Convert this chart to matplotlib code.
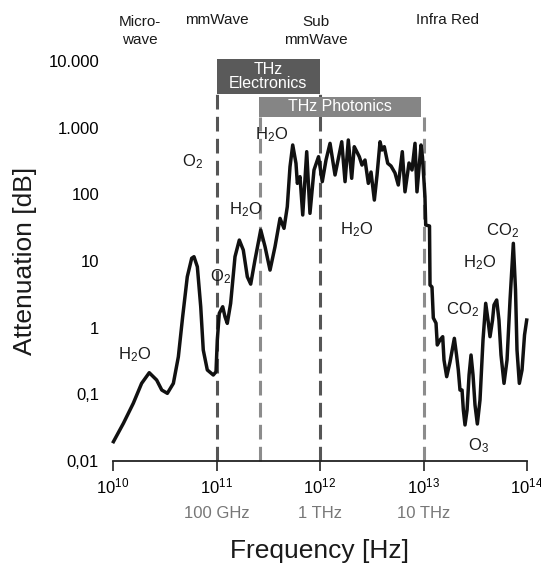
import matplotlib
matplotlib.use("Agg")
import matplotlib.pyplot as plt
import matplotlib.transforms as mtransforms
from matplotlib.patches import Rectangle
from matplotlib.ticker import FixedLocator

plt.rcParams['font.family'] = ['Liberation Sans', 'DejaVu Sans']
plt.rcParams['mathtext.fontset'] = 'custom'
plt.rcParams['mathtext.rm'] = 'Liberation Sans'
plt.rcParams['mathtext.it'] = 'Liberation Sans:italic'
plt.rcParams['mathtext.bf'] = 'Liberation Sans:bold'

# atmospheric attenuation
freq_hz = [1.01e10, 1.26e10, 1.57e10, 1.89e10, 2.24e10, 2.64e10, 2.96e10, 3.35e10, 3.83e10, 4.28e10,
           4.71e10, 5.22e10, 5.76e10, 6.06e10, 6.53e10, 7.04e10, 7.45e10, 8.15e10, 9.31e10, 9.89e10,
           1.018e11, 1.064e11, 1.148e11, 1.208e11, 1.271e11, 1.370e11, 1.509e11, 1.661e11, 1.815e11, 1.985e11,
           2.14e11, 2.355e11, 2.675e11, 2.944e11, 3.29e11, 3.676e11, 4.11e11, 4.49e11, 4.83e11, 5.13e11,
           5.45e11, 5.86e11, 6.04e11, 6.41e11, 6.81e11, 7.44e11, 8.0e11, 8.75e11, 9.68e11, 1.052e12,
           1.143e12, 1.25e12, 1.397e12, 1.622e12, 1.746e12, 1.877e12, 2.024e12, 2.143e12, 2.276e12, 2.397e12,
           2.545e12, 2.722e12, 2.931e12, 3.112e12, 3.35e12, 3.557e12, 3.802e12, 3.975e12, 4.181e12, 4.51e12,
           4.853e12, 5.305e12, 5.71e12, 6.24e12, 6.625e12, 7.244e12, 7.745e12, 8.28e12, 8.65e12, 9.46e12,
           9.775e12, 1.033e13, 1.05e13, 1.143e13, 1.156e13, 1.208e13, 1.244e13, 1.321e13, 1.359e13, 1.443e13,
           1.533e13, 1.578e13, 1.675e13, 1.803e13, 1.986e13, 2.085e13, 2.169e13, 2.252e13, 2.357e13, 2.427e13,
           2.518e13, 2.636e13, 2.756e13, 2.879e13, 3.009e13, 3.145e13, 3.313e13, 3.515e13, 3.758e13, 3.99e13,
           4.199e13, 4.393e13, 4.644e13, 4.798e13, 5.093e13, 5.358e13, 5.61e13, 5.997e13, 6.412e13, 6.856e13,
           7.379e13, 7.746e13, 8.005e13, 8.433e13, 8.954e13, 9.464e13, 9.934e13]
atten_db = [0.0195, 0.0367, 0.0733, 0.146, 0.211, 0.164, 0.116, 0.1035, 0.146, 0.366,
            1.46, 5.8, 11.0, 11.6, 8.2, 2.06, 0.462, 0.232, 0.195, 0.218,
            0.653, 1.64, 2.06, 1.46, 1.16, 2.32, 11.6, 20.6, 14.6, 5.8,
            4.5, 10.4, 29.2, 16.4, 7.3, 16.4, 43.6, 30.9, 65.2, 259,
            550, 292, 146, 184, 49, 436, 51.9, 232, 367, 155,
            327, 582, 195, 615, 155, 653, 174, 518, 431, 367,
            275, 327, 146, 216, 82, 195, 615, 462, 518, 292,
            266, 209, 138, 436, 109, 295, 232, 582, 109, 550,
            363, 92, 34.7, 33.5, 4.37, 4.07, 1.40, 1.17, 0.55, 0.653,
            0.732, 0.327, 0.184, 0.305, 0.692, 0.389, 0.232, 0.116, 0.116, 0.0582,
            0.0347, 0.0582, 0.195, 0.389, 0.195, 0.0692, 0.0359, 0.0822, 0.653, 2.32,
            1.30, 0.732, 1.30, 2.19, 2.60, 1.30, 0.389, 0.146, 0.327, 2.60,
            18.4, 3.67, 0.462, 0.146, 0.232, 0.776, 1.30]

y_ticks = [0.01, 0.1, 1, 10, 100, 1000, 10000]
y_tick_labels = ["0,01", "0,1", "1", "10", "100", "1.000", "10.000"]
x_ticks = [1e10, 1e11, 1e12, 1e13, 1e14]
unit_pos = [1e11, 1e12, 1e13]
unit_labels = ["100 GHz", "1 THz", "10 THz"]

# band borders (dashed) and the two technology bands
border_freq = [1e11, 2.65e11, 1e12, 1e13]
border_top = [3200, 1450, 3200, 1450]
border_col = ["#555555", "#8c8c8c", "#555555", "#8c8c8c"]
bands = [("THz\nElectronics", 1e11, 1e12, 3200, 10700, "#5a5a5a"),
         ("THz Photonics", 2.58e11, 9.5e12, 1450, 2930, "#858585")]

regions = [("Micro-\nwave", 1.82e10), ("mmWave", 1e11), ("Sub\nmmWave", 9.1e11), ("Infra Red", 1.69e13)]
region_y = [1.075, 1.1025, 1.075, 1.1025]

molecules = [("O$_\\mathregular{2}$", 5.9e10, 305), ("H$_\\mathregular{2}$O", 3.4e11, 776),
             ("H$_\\mathregular{2}$O", 1.9e11, 58), ("O$_\\mathregular{2}$", 1.1e11, 5.75),
             ("H$_\\mathregular{2}$O", 1.63e10, 0.39), ("H$_\\mathregular{2}$O", 2.28e12, 30),
             ("CO$_\\mathregular{2}$", 5.86e13, 29), ("H$_\\mathregular{2}$O", 3.5e13, 9.3),
             ("CO$_\\mathregular{2}$", 2.36e13, 1.84), ("O$_\\mathregular{3}$", 3.37e13, 0.0172)]

fig = plt.figure(figsize=(5.41, 5.69), dpi=100)
ax = fig.add_axes([113 / 541, 1 - 461 / 569, 414 / 541, 400 / 569])
ax.set_xscale("log")
ax.set_yscale("log")
ax.set_xlim(1e10, 1e14)
ax.set_ylim(0.01, 1e4)

for f, top, c in zip(border_freq, border_top, border_col):
    ax.plot([f, f], [0.01, top], color=c, lw=2.2, linestyle=(0, (4.8, 2.4)),
            zorder=2, clip_on=False)

for label, x0, x1, y0, y1, c in bands:
    ax.add_patch(Rectangle((x0, y0), x1 - x0, y1 - y0, facecolor=c, edgecolor="none",
                           zorder=3, clip_on=False))
    ax.text((x0 * x1) ** 0.5, (y0 * y1) ** 0.5, label, color="white", fontsize=11.5,
            ha="center", va="center", linespacing=0.95, zorder=4)

ax.plot(freq_hz, atten_db, color="#111111", lw=2.5, solid_joinstyle="round", zorder=5,
        clip_on=False)

for label, x, y in molecules:
    ax.text(x, y, label, fontsize=12, ha="center", va="center", color="#1a1a1a")

trans = mtransforms.blended_transform_factory(ax.transData, ax.transAxes)
for (label, x), y in zip(regions, region_y):
    ax.text(x, y, label, transform=trans, fontsize=11, ha="center", va="center",
            linespacing=1.3, color="#1a1a1a")
for x, label in zip(unit_pos, unit_labels):
    ax.text(x, -0.1325, label, transform=trans, fontsize=12, ha="center", va="center",
            color="#777777")

for s in ["left", "right", "top"]:
    ax.spines[s].set_visible(False)
ax.spines["bottom"].set_linewidth(1.3)
ax.spines["bottom"].set_color("#222222")

ax.xaxis.set_major_locator(FixedLocator(x_ticks))
ax.xaxis.set_minor_locator(FixedLocator([]))
ax.tick_params(axis="x", direction="out", length=7, width=1.2, color="#222222",
               labelsize=12, pad=4)
ax.set_yticks(y_ticks)
ax.set_yticklabels(y_tick_labels)
ax.yaxis.set_minor_locator(FixedLocator([]))
ax.tick_params(axis="y", length=0, labelsize=12, pad=10)

ax.set_xlabel("Frequency [Hz]", fontsize=19, labelpad=31, color="#1a1a1a")
ax.set_ylabel("Attenuation [dB]", fontsize=19, labelpad=8, color="#1a1a1a")

fig.savefig("out.png", dpi=100)
